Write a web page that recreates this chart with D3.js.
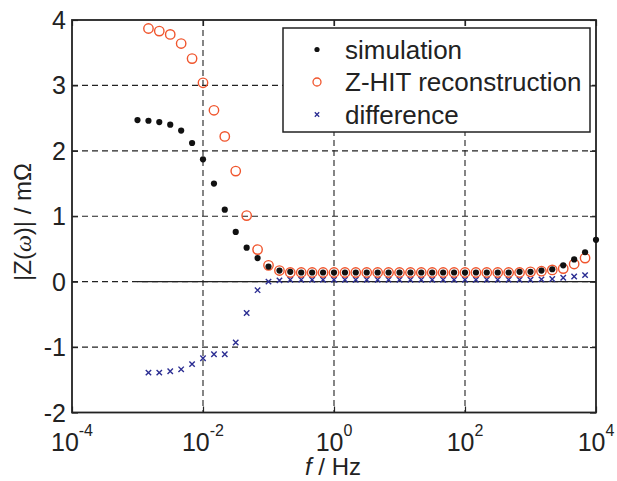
<!DOCTYPE html>
<html>
<head>
<meta charset="utf-8">
<script src="https://cdn.jsdelivr.net/npm/d3@7"></script>
<style>
  body { margin: 0; background: #fff; }
  text { font-family: "Liberation Sans", Arial, sans-serif; fill: #222; }
</style>
</head>
<body>
<svg id="chart"></svg>
<script>
// frequencies (Hz), 6 points per decade, 1e-3 .. 1e4
var freqSim = [
  1e-3, 1.47e-3, 2.15e-3, 3.16e-3, 4.64e-3, 6.81e-3,
  1e-2, 1.47e-2, 2.15e-2, 3.16e-2, 4.64e-2, 6.81e-2,
  1e-1, 1.47e-1, 2.15e-1, 3.16e-1, 4.64e-1, 6.81e-1,
  1, 1.47, 2.15, 3.16, 4.64, 6.81,
  10, 14.7, 21.5, 31.6, 46.4, 68.1,
  100, 147, 215, 316, 464, 681,
  1000, 1470, 2150, 3160, 4640, 6810,
  10000
];
// |Z| in mOhm
var simulation = [
  2.47, 2.46, 2.44, 2.40, 2.31, 2.12,
  1.87, 1.50, 1.10, 0.76, 0.52, 0.36,
  0.23, 0.17, 0.15, 0.14, 0.14, 0.14,
  0.14, 0.14, 0.14, 0.14, 0.14, 0.14,
  0.14, 0.14, 0.14, 0.14, 0.14, 0.14,
  0.14, 0.14, 0.14, 0.14, 0.14, 0.15,
  0.15, 0.17, 0.19, 0.25, 0.34, 0.45,
  0.64
];
// Z-HIT and difference start one point later and stop one point earlier
var freqRec = freqSim.slice(1, 42);
var zhit = [
  3.87, 3.83, 3.78, 3.64, 3.41,
  3.04, 2.62, 2.22, 1.69, 1.01, 0.49,
  0.25, 0.17, 0.14, 0.14, 0.14, 0.14,
  0.14, 0.14, 0.14, 0.14, 0.14, 0.14,
  0.14, 0.14, 0.14, 0.14, 0.14, 0.14,
  0.14, 0.14, 0.14, 0.14, 0.14, 0.14,
  0.15, 0.16, 0.18, 0.20, 0.27, 0.36
];
var difference = [
  -1.39, -1.39, -1.37, -1.34, -1.26,
  -1.17, -1.11, -1.11, -0.93, -0.48, -0.13,
  0.00, 0.02, 0.03, 0.03, 0.03, 0.03,
  0.03, 0.03, 0.03, 0.03, 0.03, 0.03,
  0.03, 0.03, 0.03, 0.03, 0.03, 0.03,
  0.03, 0.03, 0.03, 0.03, 0.03, 0.03,
  0.03, 0.035, 0.04, 0.06, 0.08, 0.10
];
var xTicks = [1e-4, 1e-2, 1, 1e2, 1e4];
var xTickExp = ["-4", "-2", "0", "2", "4"];
var yTicks = [-2, -1, 0, 1, 2, 3, 4];
var legendNames = ["simulation", "Z-HIT reconstruction", "difference"];

var svgWidth = 617, svgHeight = 481;
var margin = { top: 20, right: 21, bottom: 68.5, left: 72 };
var width = svgWidth - margin.left - margin.right;
var height = svgHeight - margin.top - margin.bottom;

var orange = "#f0552d", navy = "#2b2d92";

var svg = d3.select("#chart")
  .attr("width", svgWidth)
  .attr("height", svgHeight);
var g = svg.append("g")
  .attr("transform", "translate(" + margin.left + "," + margin.top + ")");

var x = d3.scaleLog().domain([1e-4, 1e4]).range([0, width]);
var y = d3.scaleLinear().domain([-2, 4]).range([height, 0]);

// dashed grid
g.selectAll(".gx").data(xTicks.slice(1, -1)).enter().append("line")
  .attr("x1", function(d) { return x(d); }).attr("x2", function(d) { return x(d); })
  .attr("y1", 0).attr("y2", height)
  .attr("stroke", "#222").attr("stroke-width", 1.1).attr("stroke-dasharray", "6,4");
g.selectAll(".gy").data(yTicks.slice(1, -1)).enter().append("line")
  .attr("x1", 0).attr("x2", width)
  .attr("y1", function(d) { return y(d); }).attr("y2", function(d) { return y(d); })
  .attr("stroke", "#222").attr("stroke-width", 1.1).attr("stroke-dasharray", "6,4");

// zero line over the data range
g.append("line")
  .attr("x1", x(freqSim[0])).attr("x2", x(freqSim[freqSim.length - 1]))
  .attr("y1", y(0)).attr("y2", y(0))
  .attr("stroke", "#222").attr("stroke-width", 1.2);

// axes with inward ticks
function noLabel() { return ""; }
g.append("g").attr("transform", "translate(0," + height + ")")
  .call(d3.axisBottom(x).tickValues(xTicks).tickSizeInner(-6).tickSizeOuter(0).tickFormat(noLabel));
g.append("g")
  .call(d3.axisTop(x).tickValues(xTicks).tickSizeInner(-6).tickSizeOuter(0).tickFormat(noLabel));
g.append("g")
  .call(d3.axisLeft(y).tickValues(yTicks).tickSizeInner(-6).tickSizeOuter(0).tickFormat(noLabel));
g.append("g").attr("transform", "translate(" + width + ",0)")
  .call(d3.axisRight(y).tickValues(yTicks).tickSizeInner(-6).tickSizeOuter(0).tickFormat(noLabel));
g.selectAll(".domain").remove();
g.selectAll(".tick line").attr("stroke", "#222").attr("stroke-width", 1.2);

g.append("rect")
  .attr("width", width).attr("height", height)
  .attr("fill", "none").attr("stroke", "#222").attr("stroke-width", 1.8);

// tick labels
var xl = g.selectAll(".xl").data(xTicks).enter().append("text")
  .attr("x", function(d) { return x(d); })
  .attr("y", height + 38)
  .attr("text-anchor", "middle")
  .attr("font-size", 25);
xl.append("tspan").text("10");
xl.append("tspan").attr("font-size", 16).attr("dy", -15)
  .text(function(d, i) { return xTickExp[i]; });

g.selectAll(".yl").data(yTicks).enter().append("text")
  .attr("x", -6)
  .attr("y", function(d) { return y(d); })
  .attr("dy", "0.36em")
  .attr("text-anchor", "end")
  .attr("font-size", 25)
  .text(function(d) { return d; });

// axis titles
var xt = svg.append("text")
  .attr("x", 333).attr("y", 475)
  .attr("text-anchor", "middle").attr("font-size", 24);
xt.append("tspan").attr("font-style", "italic").text("f");
xt.append("tspan").text(" / Hz");

var yt = svg.append("text")
  .attr("transform", "translate(31,222) rotate(-90)")
  .attr("text-anchor", "middle").attr("font-size", 24);
yt.append("tspan").text("|Z(");
yt.append("tspan").attr("font-style", "italic").attr("font-family", "Liberation Serif, serif").text("ω");
yt.append("tspan").text(")| / mΩ");

// markers
function crossPath(s) {
  return "M" + (-s) + "," + (-s) + "L" + s + "," + s + "M" + (-s) + "," + s + "L" + s + "," + (-s);
}

g.selectAll(".dif").data(difference).enter().append("path")
  .attr("transform", function(d, i) { return "translate(" + x(freqRec[i]) + "," + y(d) + ")"; })
  .attr("d", crossPath(2.7))
  .attr("stroke", navy).attr("stroke-width", 1.4).attr("fill", "none");

g.selectAll(".rec").data(zhit).enter().append("circle")
  .attr("cx", function(d, i) { return x(freqRec[i]); })
  .attr("cy", function(d) { return y(d); })
  .attr("r", 4.7)
  .attr("fill", "none").attr("stroke", orange).attr("stroke-width", 1.4);

g.selectAll(".sim").data(simulation).enter().append("circle")
  .attr("cx", function(d, i) { return x(freqSim[i]); })
  .attr("cy", function(d) { return y(d); })
  .attr("r", 3.1)
  .attr("fill", "#111");

// legend
var leg = svg.append("g");
leg.append("rect")
  .attr("x", 283).attr("y", 28).attr("width", 307).attr("height", 104)
  .attr("fill", "#fff").attr("stroke", "#222").attr("stroke-width", 1.5);
var rowY = [49.5, 82, 114.5];
leg.append("circle").attr("cx", 317).attr("cy", rowY[0]).attr("r", 2.6).attr("fill", "#111");
leg.append("circle").attr("cx", 317).attr("cy", rowY[1]).attr("r", 4)
  .attr("fill", "none").attr("stroke", orange).attr("stroke-width", 1.3);
leg.append("path").attr("transform", "translate(317," + rowY[2] + ")")
  .attr("d", crossPath(2.2)).attr("stroke", navy).attr("stroke-width", 1.3);
leg.selectAll(".lt").data(legendNames).enter().append("text")
  .attr("x", 345)
  .attr("y", function(d, i) { return rowY[i]; })
  .attr("dy", "0.36em")
  .attr("font-size", 26)
  .text(function(d) { return d; });
</script>
</body>
</html>
